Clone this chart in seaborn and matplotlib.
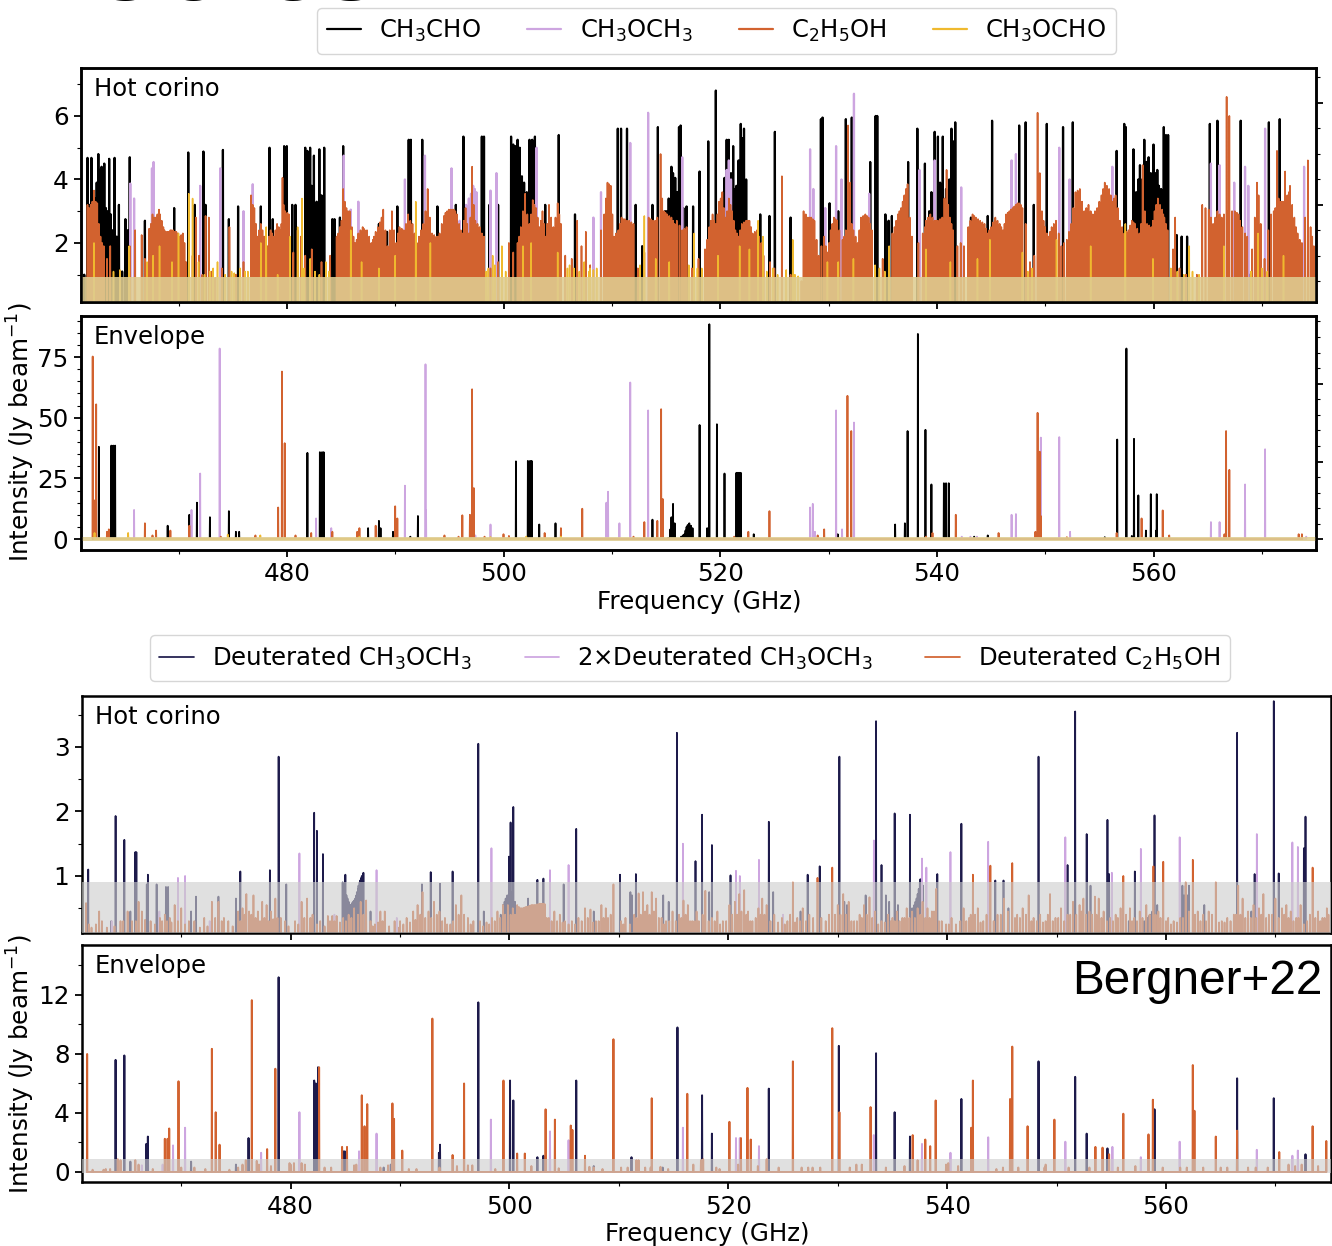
import matplotlib
matplotlib.use("Agg")
import pandas as pd
import seaborn as sns
import matplotlib.pyplot as plt
from matplotlib.ticker import MultipleLocator, NullFormatter

# (frequency GHz, intensity Jy/beam)
ch3cho_hot = [(461.3,1.0),(461.6,4.68),(461.8,3.2),(461.96,4.68),(462.15,3.6),(462.3,3.4),(462.45,3.9),(462.6,4.8),(462.75,4.3),(462.9,4.4),(463.05,3.6),(463.15,4.5),(463.3,3.1),(463.45,3.0),
    (463.6,4.65),(463.75,2.9),(463.9,2.4),(464.1,4.68),(464.3,2.2),(464.5,3.2),(464.8,1.1),(465.1,2.75),(465.3,2.4),(465.5,4.7),(466.9,2.7),(469.6,3.1),
    (470.9,4.85),(471.5,3.2),(472.3,4.88),(472.5,3.2),(474.1,4.93),(474.65,2.75),(475.5,3.15),(477.6,3.15),(478.4,5.0),(478.7,2.75),(479.75,5.05),
    (480.0,5.05),(480.5,3.2),(480.8,3.2),(481.7,5.0),(481.9,4.9),(482.15,5.0),(482.3,3.8),(482.5,4.75),(482.75,3.3),(483.0,4.95),(483.2,3.5),(483.45,5.0),(484.2,2.75),
    (484.4,2.75),(484.9,2.8),(485.2,5.05),(488.5,2.6),(489.25,2.35),(490.2,3.15),(491.25,5.25),(491.45,5.25),(492.5,5.25),(493.9,3.15),(495.6,3.2),
    (496.3,5.35),(498.0,5.35),(498.2,5.35),(498.7,3.2),(499.5,3.2),(500.7,5.35),(500.9,5.1),(501.1,5.05),(501.3,5.25),(501.5,5.0),(501.7,4.1),(501.9,3.9),
    (502.15,3.6),(502.4,5.25),(502.65,5.25),(502.9,5.35),(503.85,3.2),(505.1,5.4),(506.6,2.9),(510.55,5.6),(510.85,5.6),(511.4,5.6),(512.2,3.2),(512.8,1.9),
    (513.75,3.2),(514.25,5.65),(514.9,3.0),(515.05,3.0),(515.25,3.4),(515.5,4.4),(515.65,4.2),(515.85,4.05),(516.05,3.6),(516.2,5.65),(516.35,5.7),(516.6,3.1),(516.9,3.15),(517.5,3.15),
    (518.1,4.25),(518.9,5.2),(519.6,6.8),(520.4,4.05),(520.6,5.25),(520.8,5.25),(521.0,4.2),(521.2,5.05),(521.35,3.7),(521.5,3.8),(521.7,4.6),(521.9,5.75),(522.05,5.3),
    (522.2,5.6),(522.4,4.0),(523.7,2.9),(524.55,2.85),(525.05,5.5),(526.5,2.8),(529.3,5.9),(529.45,5.95),(530.1,3.25),(530.9,3.0),(531.6,5.9),(532.15,5.95),
    (533.85,4.55),(534.35,6.0),(534.5,6.0),(535.25,2.9),(535.55,2.7),(535.85,2.85),(537.35,4.55),(538.2,5.6),(538.4,3.8),(538.9,4.5),(539.3,3.0),(539.5,3.6),
    (539.8,5.5),(540.1,5.35),(540.3,3.9),(540.55,5.35),(540.85,3.7),(541.15,4.0),(541.35,5.6),(541.55,5.2),(541.7,5.8),(543.15,2.8),(544.7,2.85),(545.1,5.85),
    (547.6,5.7),(548.2,5.8),(548.95,3.2),(550.15,5.75),(551.65,5.65),(552.55,5.8),(556.6,4.9),(557.3,5.75),(557.45,5.65),(558.15,4.95),(558.4,3.6),(558.6,4.0),(558.75,4.45),
    (558.95,4.0),(559.15,5.25),(559.35,4.55),(559.55,4.7),(559.75,4.2),(560.0,5.1),(560.2,4.2),(560.35,4.3),(560.5,3.8),(560.7,3.7),(560.95,5.65),(561.15,5.4),(561.35,5.4),
    (562.15,2.25),(562.6,2.2),(563.1,2.2),(565.2,5.75),(565.9,5.85),(568.05,5.85),(568.9,1.0),(570.65,5.8),(571.65,5.9),(572.4,2.9)]
ch3och3_hot = [(465.55,3.87),(465.9,3.4),(467.55,4.35),(467.7,4.55),(472.0,3.8),(473.85,4.35),(476.0,3.0),(476.85,3.85),(485.25,4.75),(485.9,3.05),(486.6,3.3),
    (490.9,4.0),(492.75,4.75),(495.2,4.35),(495.95,2.7),(496.55,3.2),(496.8,3.4),(497.0,3.55),(497.2,3.8),(497.35,3.7),(497.5,3.6),(498.8,3.65),(499.35,4.2),(503.05,5.0),(508.3,2.8),
    (509.0,3.6),(509.8,3.5),(511.7,5.15),(513.35,6.1),(516.5,4.7),(520.6,4.3),(520.8,4.6),(521.0,4.0),(528.3,4.95),(528.6,3.7),(529.7,3.1),(530.7,5.05),(531.2,4.0),
    (532.35,6.7),(533.75,3.55),(538.4,4.3),(539.8,4.6),(542.25,3.75),(546.9,4.6),(547.3,4.8),(551.3,5.0),(552.25,4.0),(555.6,3.55),(556.2,4.4),(565.3,4.5),
    (566.1,4.45),(567.45,3.9),(568.45,4.4),(568.75,3.8),(570.3,5.6),(573.9,4.4)]
c2h5oh_hot = [(461.6,3.2),(461.9,3.2),(462.2,3.65),(462.5,3.25),(462.8,2.2),(463.1,1.9),(463.4,1.5),(463.7,1.9),(465.5,1.9),(466.0,2.4),(466.6,2.25),(466.9,1.5),
    (467.3,2.45),(467.6,2.9),(467.75,2.8),(467.9,2.8),(468.05,2.9),(468.2,3.05),(468.45,2.7),(468.7,2.4),(468.85,2.35),(469.0,2.35),(469.25,2.4),(469.5,2.4),(469.8,2.35),
    (470.1,2.2),(470.4,2.3),(470.7,1.4),(471.3,1.6),(471.6,2.8),(471.9,1.6),(472.2,1.0),(472.5,2.85),(472.8,2.8),(473.1,1.1),(473.4,0.9),(474.0,1.2),(474.7,2.5),
    (475.3,1.0),(476.0,1.4),(476.7,3.5),(477.0,3.1),(477.3,2.2),(477.6,2.6),(477.9,2.2),(478.2,1.9),(478.5,2.4),(478.8,2.2),(479.1,2.6),(479.4,2.4),(479.6,4.05),
    (479.85,3.0),(480.2,2.9),(480.6,1.7),(481.0,2.4),(481.3,2.2),(481.7,1.6),(482.3,1.8),(483.2,1.4),(484.0,1.6),(484.6,2.2),(484.9,2.5),(485.2,3.7),(485.35,3.3),(485.5,3.1),
    (485.65,3.0),(485.8,3.0),(486.0,2.5),(486.3,2.0),(486.6,2.3),(487.0,2.5),(487.2,2.4),(487.4,2.4),(487.6,2.2),(487.8,2.0),(488.2,2.35),(488.6,2.65),(488.9,3.05),(489.3,1.9),(489.7,3.0),
    (490.1,2.0),(490.4,2.5),(490.8,2.4),(491.2,2.9),(491.6,2.6),(492.0,2.0),(492.4,2.4),(493.0,3.7),(493.4,2.3),(493.8,2.2),(494.1,2.3),(494.3,2.6),(494.5,2.85),(494.65,2.95),
    (494.8,3.0),(494.95,3.05),(495.1,3.05),(495.25,3.05),(495.4,3.05),(495.55,3.0),(495.7,2.9),(495.9,2.6),(496.2,2.3),(496.5,3.1),(496.8,2.3),(497.1,4.4),(497.4,2.7),(497.8,2.5),
    (498.2,2.2),(498.8,1.2),(499.5,1.4),(500.5,2.0),(500.9,1.7),(501.3,2.0),(501.6,2.5),(502.0,3.55),(502.2,2.9),(502.4,2.6),(502.7,3.35),(503.0,3.1),(503.3,2.5),(503.6,3.0),(503.9,2.2),
    (504.2,3.2),(504.6,2.5),(505.0,3.25),(505.3,2.6),(505.7,1.6),(506.3,1.5),(506.8,2.7),(507.2,1.9),(507.6,2.35),(508.0,1.3),(509.0,2.4),(509.6,3.9),(509.9,3.8),(510.2,2.2),(510.6,2.4),
    (510.9,2.8),(511.2,2.75),(511.6,2.7),(512.0,2.6),(512.4,1.2),(513.0,1.7),(513.4,2.8),(514.0,2.7),(514.5,4.8),(514.8,3.0),(515.1,2.9),(515.5,2.8),(515.8,2.6),(516.0,2.7),(516.5,2.4),
    (516.9,2.5),(517.4,1.2),(518.0,1.5),(518.6,1.8),(519.0,2.5),(519.3,2.9),(519.6,2.6),(519.9,3.3),(520.2,3.6),(520.5,2.8),(520.8,3.4),(521.1,3.0),(521.4,2.4),(521.7,2.2),(522.0,2.6),
    (522.4,2.7),(522.7,2.7),(523.0,2.3),(523.4,2.4),(523.8,2.0),(524.0,1.6),(524.6,1.4),(525.0,1.2),(525.7,4.1),(526.5,1.0),(527.5,0.8),(527.7,3.0),(528.1,2.8),(528.4,2.8),(528.7,2.7),
    (529.1,1.6),(529.6,2.2),(529.9,1.7),(530.2,2.4),(530.5,2.8),(530.8,2.7),(531.3,2.1),(531.6,2.4),(531.8,5.7),(532.0,3.9),(532.3,2.4),(532.7,2.0),(533.0,2.8),(533.4,2.9),(533.7,2.8),
    (534.0,2.4),(535.0,1.5),(535.9,2.3),(536.1,2.5),(536.4,2.9),(536.7,3.1),(537.0,3.5),(537.3,3.85),(537.7,2.2),(538.3,2.0),(538.7,2.3),(539.0,2.7),(539.4,2.9),(539.8,2.7),(540.1,2.7),
    (540.5,2.8),(540.9,4.3),(541.2,2.8),(541.5,2.4),(541.9,1.9),(542.2,2.0),(542.5,1.9),(542.9,2.5),(543.3,2.9),(543.6,2.8),(544.0,2.7),(544.4,2.6),(544.7,2.3),(545.0,2.5),(545.4,2.8),
    (545.8,2.6),(546.1,2.4),(546.4,2.9),(546.55,2.95),(546.7,3.0),(546.85,3.05),(547.0,3.1),(547.15,3.15),(547.3,3.2),(547.45,3.25),(547.6,3.25),(547.75,3.2),(547.9,3.1),(548.2,2.6),
    (548.6,1.4),(549.0,1.6),(549.3,6.1),(549.5,4.2),(549.7,3.0),(550.0,2.5),(550.3,2.2),(550.6,2.5),(551.0,2.7),(551.5,1.9),(552.0,2.1),(552.4,2.6),(552.8,3.6),(553.2,3.7),(553.6,3.0),
    (554.0,3.2),(554.4,2.9),(554.8,3.1),(555.2,3.5),(555.5,3.9),(555.9,3.7),(556.2,3.3),(556.5,3.5),(556.9,2.7),(557.3,2.3),(557.7,2.4),(558.0,2.7),(558.3,2.6),(558.7,2.3),(559.0,4.45),
    (559.4,2.6),(559.8,2.5),(560.1,3.0),(560.4,3.4),(560.8,3.05),(561.0,2.8),(561.3,2.4),(561.8,1.8),(562.0,2.8),(562.4,1.2),(563.0,1.0),(564.0,1.0),(564.5,3.2),(565.1,3.05),(565.5,2.6),
    (565.9,3.0),(566.3,2.8),(566.75,6.6),(567.0,6.0),(567.5,3.0),(567.85,2.9),(568.2,2.5),(568.65,2.2),(569.1,1.8),(569.55,3.9),(569.7,3.5),(570.25,1.5),(570.85,2.9),(571.1,3.0),(571.4,4.9),
    (571.7,3.3),(571.95,3.3),(572.15,4.25),(572.35,3.5),(572.6,3.8),(573.0,2.8),(573.3,2.3),(573.7,2.0),(574.25,4.6),(574.5,2.5),(574.8,1.9)]
# the solid looking stretches of the C2H5OH spectrum
c2h5oh_hot_fill = [(461.75,3.1),(462.05,3.3),(462.35,3.3),(462.65,2.6),(462.95,2.0),(467.45,2.6),(468.3,2.9),(468.6,2.5),(469.1,2.35),(469.35,2.4),(469.65,2.35),(469.95,2.3),(470.25,2.25),(470.55,2.0),
    (476.85,3.2),(477.15,2.6),(477.45,2.4),(477.75,2.4),(478.05,2.0),(478.35,2.2),(478.65,2.3),(478.95,2.4),(479.25,2.5),(479.5,2.6),(479.7,3.2),(480.05,2.95),(484.75,2.3),(485.05,2.7),
    (486.15,2.2),(486.45,2.1),(486.8,2.4),(487.1,2.45),(487.95,2.1),(488.05,2.2),(488.4,2.5),(488.75,2.8),(489.1,2.4),(489.5,2.4),(489.9,2.4),(490.25,2.3),(490.6,2.45),(491.0,2.6),(491.4,2.7),
    (491.8,2.3),(492.2,2.2),(492.6,2.6),(492.8,3.0),(493.2,2.8),(493.6,2.25),(493.95,2.2),(496.05,2.4),(496.35,2.7),(496.65,2.6),(496.95,2.8),(497.25,3.2),(497.6,2.6),(498.0,2.3),
    (501.45,2.2),(501.8,3.0),(502.55,2.9),(502.85,3.2),(503.15,2.8),(503.45,2.7),(503.75,2.6),(504.05,2.6),(504.4,2.8),(504.8,2.8),(505.15,2.9),(509.3,2.9),(509.45,3.4),(509.75,3.85),(510.05,2.9),
    (510.4,2.3),(510.75,2.6),(511.05,2.75),(511.4,2.7),(511.8,2.65),(513.6,2.75),(513.8,2.7),(514.2,2.8),(514.65,3.4),(514.95,2.95),(515.3,2.85),(515.65,2.7),(516.25,2.55),(516.7,2.45),
    (518.8,2.1),(519.15,2.7),(519.45,2.7),(519.75,2.9),(520.05,3.4),(520.35,3.1),(520.65,3.0),(520.95,3.2),(521.25,2.7),(521.55,2.3),(521.85,2.4),(522.2,2.65),(522.55,2.7),(522.85,2.5),(523.2,2.35),(523.6,2.2),
    (527.9,2.9),(528.25,2.8),(528.55,2.75),(528.9,2.1),(529.35,1.9),(529.75,1.9),(530.05,2.0),(530.35,2.6),(530.65,2.75),(531.0,2.4),(531.45,2.2),(531.95,3.0),(532.15,2.6),(532.5,2.2),(532.85,2.4),(533.2,2.85),(533.55,2.85),(533.85,2.6),
    (536.25,2.7),(536.55,3.0),(536.85,3.3),(537.15,3.7),(537.5,2.8),(538.9,2.5),(539.2,2.8),(539.6,2.8),(539.95,2.7),(540.3,2.75),(540.7,3.4),(541.05,3.2),(541.35,2.6),
    (543.1,2.7),(543.45,2.85),(543.8,2.75),(544.2,2.65),(544.55,2.45),(544.85,2.4),(545.2,2.65),(545.6,2.7),(545.95,2.5),(546.25,2.6),(549.85,2.7),(550.15,2.3),(550.45,2.35),(550.8,2.6),(551.25,2.3),(551.75,2.0),
    (552.2,2.35),(552.6,3.1),(553.0,3.65),(553.4,3.3),(553.8,3.1),(554.2,3.0),(554.6,3.0),(555.0,3.3),(555.35,3.7),(555.7,3.8),(556.05,3.5),(556.35,3.4),(556.7,3.1),(557.1,2.5),(557.5,2.35),(557.85,2.55),
    (558.15,2.65),(558.5,2.45),(558.85,2.6),(559.2,3.0),(559.6,2.55),(559.95,2.7),(560.25,3.2),(560.6,3.2),(560.9,2.9),(561.15,2.6),(564.8,3.1),(565.3,2.8),(565.7,2.8),(566.1,2.9),(566.5,2.9),(566.9,3.0),(567.25,3.0),
    (567.7,2.95),(568.0,2.7),(568.45,2.3),(569.35,2.8),(569.9,2.6),(570.6,2.4),(571.25,3.1),(571.55,3.4),(571.85,3.3),(572.5,3.6),(572.8,3.2),(573.15,2.5),(573.5,2.1),(574.0,2.8),(574.65,2.2)]
ch3ocho_hot = [(462.2,2.0),(465.45,1.9),(467.1,1.4),(467.65,1.6),(468.25,1.9),(469.4,1.4),(470.0,2.3),(470.95,3.55),(471.3,3.4),(471.85,1.4),(473.6,1.4),(476.15,1.1),
    (477.6,2.0),(478.1,2.5),(479.15,1.0),(480.3,2.2),(481.0,2.5),(481.4,3.4),(482.15,1.5),(483.6,1.4),(485.9,2.4),(486.9,1.4),(488.5,1.2),(490.0,1.6),(491.9,3.3),(493.25,2.0),
    (499.0,1.6),(499.85,1.9),(501.8,1.9),(502.55,2.0),(505.0,1.7),(507.45,1.4),(508.0,1.2),(513.0,2.85),(514.05,1.5),(515.3,1.4),(517.6,2.3),(519.8,1.6),(521.8,1.9),(522.7,1.8),
    (523.5,2.7),(523.95,2.2),(526.7,2.1),(529.9,1.4),(530.9,1.4),(532.3,1.5),(535.6,1.9),(539.0,1.8),(541.25,1.4),(543.75,1.5),(544.9,2.1),(547.9,1.7),(551.05,2.1),(554.2,1.9),
    (557.4,2.6),(559.95,1.5),(563.3,1.9),(566.5,1.9),(569.65,2.3),(572.0,1.6),
    (464.0,1.1),(464.6,1.15),(472.4,1.0),(472.9,1.1),(473.2,1.2),(474.3,1.0),(474.9,1.1),(475.15,1.05),(475.7,1.2),(476.4,1.1),(481.6,1.2),(482.6,1.1),(483.0,1.0),(483.9,1.1),(498.4,1.1),(498.6,1.2),(499.2,1.3),(500.2,1.1),
    (505.9,1.2),(506.1,1.3),(506.5,1.2),(507.0,1.1),(507.9,1.1),(508.3,1.15),(508.6,1.2),(512.6,1.3),(517.1,1.3),(517.9,1.2),(518.3,1.2),(524.3,1.1),(524.85,1.2),(525.3,1.0),(526.1,1.15),(526.9,1.0),(527.2,0.95),
    (534.3,1.3),(534.7,1.2),(535.2,1.1),(548.4,1.1),(548.8,1.2),(561.6,1.2),(562.2,1.1),(562.8,1.0),(563.6,1.1),(564.2,1.0),(569.0,1.1),(570.0,1.2),(570.5,1.1)]

ch3cho_env = [(462.65,38),(463.8,38.5),(463.98,38.5),(464.15,38.5),(469,5.5),(471,10),(471.7,15),(472.9,9),(474.65,11.5),(475.3,3),(475.6,3),(481.9,35.5),(483.05,35.8),(483.25,35.8),
    (483.4,35.8),(487.5,4.5),(488.5,7.5),(488.65,4.5),(489.8,3),(491.4,1),(492.1,9.5),(501.15,32),(502.25,32.2),(502.45,32.2),(502.6,32.2),(503.3,6),(504.8,6.5),(513.75,8),
    (515.2,0.5),(515.4,4),(515.5,9),(515.65,14.5),(515.8,6.5),(516.4,1),(516.55,1.5),(516.7,2),(516.8,3.5),(516.9,5),(517.0,5.8),(517.15,6.5),(517.3,5.5),(517.45,4.5),(518.1,47),(518.8,4.5),(519,88.5),(519.7,47.3),(520.4,27),
    (521.5,27.3),(521.6,27.3),(521.7,27.3),(521.8,27.3),(521.9,27.3),(523.1,2),(530.85,2),(536.15,6),(537.05,6.5),(537.3,44.5),(538.25,84.5),(538.95,45),(539.5,22.5),(540.65,23),
    (540.85,23),(541.1,23),(543.45,1),(544.7,1.5),(555.5,0.8),(556.65,41),(557.5,78.5),(558.2,41.3),(558.6,18),(558,1.3),(559.3,3.5),(559.75,18.5),(560.3,18.5),(560.25,3.5)]
ch3och3_env = [(465.9,12),(471.2,12),(472,27),(473.8,78.5),(482.7,8.5),(484.1,4.5),(490.9,22),(492.8,72),(492.85,12),(498.8,6),(497.4,1.5),(509.5,15),(509.65,19.5),(510.7,6.5),
    (511.7,64.5),(513.35,53),(528.3,13),(528.55,14.5),(528.75,3),(530.7,53),(531.25,4),(532.35,48),(542.3,1),(543.1,1),(543.7,1),(546.9,10),(547.3,10.3),(549.6,41.8),(551.3,42),
    (552.3,3),(565.3,7),(566.1,7),(568.45,22.5),(570.3,37),(574.1,1)]
c2h5oh_env = [(462.08,75.2),(462.2,16),(462.4,55.5),(463.4,3),(463.57,4),(466.9,6.5),(467.6,1.5),(467.93,3.5),(469.25,3.5),(471.0,5.5),(473.9,1),(477.1,1.5),(479.2,13),(479.55,69),
    (479.8,39.5),(480.8,1.5),(482.25,2.5),(484.2,3),(486.5,3),(486.7,4.5),(488.2,5.5),(490,13.5),(490.2,8.5),(494.55,1.5),(495.85,1),(496.2,9.8),(496.9,10),(497.1,61.7),
    (497.26,21),(498.25,1),(500,2),(500.5,1.3),(503.8,2.5),(505.3,4.5),(507.27,12.5),(512,1),(513,7),(514.2,7.5),(514.55,53.5),(514.7,16.5),(521.3,1),(522.6,3),(524.55,11.5),
    (529,1.5),(529.6,4),(531.75,59),(532.1,44.5),(539,1),(539.6,2.5),(541.75,10),(545.7,2.5),(549.1,3),(549.3,52),(549.5,36),(549.6,9.5),(552,0.8),(556.6,2.5),(558.9,8.5),
    (560.85,11.8),(561.45,1.5),(566.55,2),(566.7,44.5),(567,28.5),(573.4,2),(573.7,2)]
ch3ocho_env = [(462.25,2.5),(465.35,2.5),(474.55,1.8),(477.55,1.5),(486.7,1),(498.8,0.8),(502.1,1),(505.3,1)]

d_ch3och3_hot = [(461.5,1.1),(463.6,0.3),(464,1.93),(464.8,1.56),(465.35,0.45),(465.8,1.37),(465.9,1.37),(466.85,0.87),(466.95,1.02),(467.75,0.87),(468.6,0.83),(468.8,0.83),(470.9,0.45),(471.35,0.68),(473.4,0.68),
    (475,0.65),(475.4,1.07),(478.1,1.09),(478.9,2.85),(479.6,0.87),(482.15,1.98),(482.4,1.7),(482.95,1.34),(484.75,0.9),(485,1.02),(485.1,0.7),(485.2,0.65),(485.3,0.6),(485.4,0.55),(485.5,0.55),(485.6,0.58),(485.7,0.6),(485.8,0.62),
    (485.9,0.65),(486.0,0.7),(486.05,0.75),(486.15,0.8),(486.2,0.85),(486.3,0.9),(486.35,0.93),(486.45,0.97),(486.5,1.0),(486.6,1.03),(486.65,1.05),(487.3,0.45),(492,0.87),(492.8,1.06),(493.65,0.88),(494.8,1.07),(497.15,3.05),(497.65,0.45),
    (499.2,0.4),(499.4,0.55),(499.55,0.6),(499.65,0.65),(499.8,0.7),(499.95,1.3),(500.1,1.83),(500.2,0.75),(500.35,2.07),(500.5,0.6),(500.65,0.5),(501.7,0.65),(502.55,0.94),(503.1,0.96),(504.95,0.87),(506.1,1.73),(507.7,0.45),(510.1,1.02),(511.05,0.75),(511.2,0.7),
    (511.55,1.03),(514.05,0.7),(514.55,0.6),(515.3,3.22),(517,1.23),(517.6,1.95),(518.25,0.75),(518.5,1.48),(520.2,1.01),(523.7,1.84),(524.1,0.75),(526.6,0.45),(527.25,1.02),
    (528.35,1.15),(530.15,2.85),(530.6,0.6),(530.85,0.55),(532.55,0.7),(533.5,3.4),(534,1.17),(534.4,0.7),(534.7,0.6),(535.2,1.97),(535.5,0.55),(536.6,1.95),(536.8,0.5),(537.0,0.55),(537.1,0.6),
    (537.2,0.65),(537.3,0.72),(537.4,0.8),(537.5,0.9),(537.55,0.95),(537.65,0.9),(537.8,0.85),(539.1,1.03),(541.3,1.81),(544.4,0.93),(545.15,0.93),(545.6,0.5),(548.35,2.85),(551,1.17),(551.7,3.55),(552.75,1.65),
    (553.1,0.85),(554.65,1.87),(554.8,1.03),(556.6,0.3),(557.15,1.07),(558,0.3),(558.3,0.35),(558.45,0.38),(558.6,0.4),(558.75,0.45),(558.95,1.94),(559.2,0.55),(561.5,0.85),(561.65,0.7),(561.8,0.85),(561.95,0.7),(562.1,0.85),(563.5,0.55),
    (566.5,3.22),(567.8,0.45),(568.1,1.03),(569.85,3.71),(570.3,1.04),(572.6,1.43),(572.75,1.92)]
d2_ch3och3_hot = [(463.65,0.3),(468.0,0.45),(469.7,0.97),(470.35,1.0),(472.6,0.3),(480.8,1.35),(484.0,0.4),(487.85,1.09),(489.7,0.35),(498.35,1.43),(503.7,1.09),(505.4,1.17),
    (515.85,1.5),(520.7,1.08),(521.05,1.0),(522.8,1.25),(525.0,0.4),(533.3,1.55),(537.7,1.27),(538.1,1.13),(540.3,1.37),(543.75,1.53),(550.8,1.6),(555.05,1.05),(557.7,1.42),
    (561.25,1.6),(568.3,1.65),(571.55,1.52),(572.05,1.45)]
d_c2h5oh_hot = [(461.3,0.58),(461.55,0.25),(462.5,0.45),(462.75,0.3),(464.45,0.3),(465.1,0.45),(465.5,0.3),(466.1,0.6),(466.4,0.45),(467.2,0.3),(468.05,0.35),(468.5,0.4),(468.95,0.35),(469.4,0.55),
    (470.0,0.5),(470.7,0.3),(471.2,0.3),(472.1,0.35),(472.8,0.6),(473.4,0.6),(473.9,0.35),(474.3,0.3),(475.2,0.45),(475.6,0.5),(475.95,0.72),(476.2,0.45),(476.6,0.7),(477.0,0.45),
    (477.4,0.6),(477.8,0.55),(478.2,0.45),(478.6,0.65),(479.1,0.35),(479.5,0.3),(480.4,0.3),(481.0,0.6),(481.5,0.65),(482.0,0.4),(482.7,0.3),(483.4,0.38),(483.8,0.38),(484.2,0.38),
    (484.8,0.35),(485.3,0.4),(485.8,0.5),(486.4,0.6),(486.9,0.62),(487.3,0.3),(487.7,0.25),(488.2,0.45),(488.6,0.45),(489.5,0.3),(490.0,0.3),(490.6,0.35),(491.2,0.45),(491.6,0.55),
    (492.05,0.75),(492.6,0.45),(493.1,0.6),(493.6,0.45),(494.1,0.35),(494.6,0.25),(495.1,0.55),(495.6,0.7),(496.2,0.35),(496.7,0.3),(497.3,0.3),(497.9,0.28),(498.4,0.35),(498.9,0.45),
    (499.4,0.55),(499.85,0.55),(500.3,0.5),(500.7,0.55),(500.85,0.52),(501.0,0.5),(501.12,0.5),(501.25,0.5),(501.37,0.51),(501.5,0.52),(501.62,0.52),(501.75,0.53),(501.87,0.54),(502.0,0.55),(502.12,0.55),(502.25,0.55),(502.37,0.55),(502.5,0.56),(502.62,0.56),(502.75,0.57),(502.87,0.57),(503.0,0.57),(503.12,0.57),(503.25,0.56),
    (503.6,0.35),(504.1,0.45),(504.6,0.4),(505.05,0.3),(505.7,0.3),(506.3,0.35),(506.9,0.5),(507.4,0.48),(507.9,0.3),(508.4,0.55),(508.8,0.5),(509.5,0.87),(510.2,0.3),(510.6,0.35),
    (511.4,0.4),(511.8,0.73),(512.2,0.75),(512.6,0.55),(513.0,0.75),(513.4,0.65),(513.9,0.35),(514.3,0.3),(514.9,0.45),(515.5,0.4),(515.9,0.62),(516.3,0.55),(516.7,0.3),(517.1,0.45),
    (517.9,0.77),(518.5,0.35),(519.0,0.45),(519.5,0.3),(520.1,0.55),(520.6,0.6),(521.0,0.72),(521.45,0.78),(521.8,0.45),(522.2,0.3),(522.75,0.5),(523.1,0.65),(523.5,0.55),(524.2,0.4),
    (524.9,0.35),(525.4,0.3),(525.9,0.9),(526.3,0.35),(526.8,0.5),(527.4,0.4),(528.15,0.97),(528.9,0.3),(529.5,1.13),(530.0,0.55),(530.5,0.72),(531.0,0.6),(531.5,0.3),(532.0,0.4),
    (532.4,0.55),(532.9,0.67),(533.4,0.45),(534.0,0.3),(534.6,0.4),(535.0,0.35),(535.4,0.45),(535.9,0.35),(536.3,0.5),(536.8,0.45),(537.3,0.5),(537.75,0.6),(538.2,0.5),(538.6,0.45),
    (539.0,0.8),(539.5,0.3),(539.9,0.25),(540.4,0.35),(540.8,0.25),(541.5,0.5),(542.0,0.35),(542.35,1.02),(542.8,0.5),(543.3,0.3),(543.95,1.16),(544.6,0.4),(545.2,0.65),(545.95,1.2),
    (546.4,0.4),(546.9,0.5),(547.45,0.7),(547.9,0.35),(548.5,0.4),(549.0,0.3),(549.4,0.72),(549.9,0.35),(550.4,0.5),(551.0,0.4),(551.5,0.6),(552.1,0.55),(552.45,0.65),(553.0,0.45),
    (553.5,0.68),(553.85,0.65),(554.3,0.45),(554.9,0.35),(555.4,0.4),(555.85,0.5),(556.1,1.0),(556.7,0.5),(557.1,0.35),(557.6,0.45),(558.2,0.55),(558.85,1.15),(559.3,0.45),(559.75,1.22),
    (560.2,0.35),(560.7,0.3),(561.3,0.35),(561.8,0.9),(562.45,1.25),(562.9,0.45),(563.4,0.4),(563.9,0.45),(564.55,0.9),(565.1,0.3),(565.6,0.35),(566.2,0.4),(566.6,0.85),(567.0,0.65),
    (567.5,0.45),(568.0,0.55),(568.5,0.5),(568.9,0.72),(569.4,0.4),(570.0,0.65),(570.6,0.5),(571.0,0.55),(571.4,0.45),(571.9,0.35),(572.3,0.55),(572.9,0.3),(573.4,1.13),(573.9,0.45),
    (574.3,0.35),(574.7,0.5)]
# the low lines that crowd along the bottom of the deuterated hot corino panel
d_c2h5oh_hot_low = [(461.8,0.2),(462.2,0.25),(463.2,0.2),(463.9,0.22),(464.7,0.3),(465.85,0.3),(466.7,0.32),(467.6,0.25),(468.25,0.3),(468.7,0.3),(469.1,0.28),(469.7,0.3),(470.35,0.25),(471.7,0.2),(472.4,0.22),(473.1,0.35),
    (473.7,0.3),(474.7,0.22),(475.4,0.3),(475.8,0.4),(476.4,0.4),(476.8,0.35),(477.2,0.3),(477.6,0.35),(478.0,0.3),(478.4,0.33),(478.8,0.35),(479.8,0.22),(480.7,0.25),(481.25,0.35),(481.8,0.35),(482.4,0.25),(483.1,0.22),(483.6,0.3),(484.0,0.3),(484.5,0.28),
    (485.05,0.3),(485.55,0.35),(486.15,0.4),(486.65,0.4),(487.5,0.22),(488.0,0.28),(488.4,0.3),(489.0,0.22),(489.9,0.2),(490.3,0.25),(490.9,0.28),(491.4,0.32),(491.85,0.4),(492.3,0.35),(492.85,0.35),(493.35,0.4),(493.85,0.3),(494.3,0.25),(494.85,0.3),(495.35,0.4),(495.85,0.4),(496.45,0.25),
    (497.6,0.22),(498.15,0.25),(498.65,0.3),(499.15,0.35),(499.6,0.4),(500.1,0.4),(500.5,0.4),(503.4,0.35),(503.85,0.3),(504.35,0.3),(504.85,0.28),(505.4,0.25),(506.0,0.25),(506.6,0.3),(507.15,0.35),(507.65,0.28),(508.15,0.3),(508.6,0.35),(509.0,0.35),(509.25,0.4),
    (510.4,0.25),(511.0,0.25),(511.6,0.35),(512.0,0.4),(512.4,0.45),(512.8,0.4),(513.2,0.45),(513.65,0.35),(514.1,0.25),(514.6,0.3),(515.2,0.3),(515.7,0.35),(516.1,0.4),(516.5,0.3),(516.9,0.3),(517.3,0.3),(517.65,0.4),(518.2,0.3),(518.75,0.3),(519.25,0.25),
    (519.8,0.3),(520.35,0.4),(520.8,0.4),(521.2,0.45),(521.65,0.4),(522.0,0.3),(522.5,0.35),(522.95,0.4),(523.3,0.4),(523.85,0.3),(524.55,0.28),(525.15,0.25),(525.65,0.4),(526.1,0.28),(526.55,0.3),(527.1,0.3),(527.75,0.35),(528.5,0.35),(529.2,0.4),(529.75,0.4),
    (530.25,0.4),(530.75,0.4),(531.25,0.3),(531.75,0.3),(532.2,0.35),(532.65,0.4),(533.15,0.35),(533.7,0.25),(534.3,0.28),(534.85,0.3),(535.2,0.3),(535.65,0.3),(536.1,0.35),(536.55,0.35),(537.05,0.35),(537.55,0.4),(538.0,0.35),(538.4,0.35),(538.8,0.45),(539.25,0.3),
    (540.15,0.25),(541.2,0.3),(541.75,0.3),(542.15,0.4),(542.55,0.4),(543.05,0.28),(543.6,0.4),(544.25,0.3),(544.9,0.4),(545.55,0.45),(546.2,0.35),(546.65,0.35),(547.2,0.4),(547.7,0.3),(548.2,0.3),(548.75,0.28),(549.2,0.4),(549.65,0.3),(550.15,0.35),(550.7,0.3),
    (551.25,0.4),(551.8,0.4),(552.3,0.45),(552.7,0.4),(553.25,0.4),(553.65,0.4),(554.1,0.35),(554.6,0.3),(555.15,0.3),(555.6,0.35),(556.35,0.4),(556.9,0.3),(557.35,0.3),(557.85,0.35),(558.5,0.4),(559.05,0.4),(559.5,0.35),(560.0,0.3),(560.45,0.25),(561.0,0.28),
    (561.55,0.35),(562.1,0.45),(562.65,0.4),(563.15,0.3),(563.65,0.3),(564.2,0.4),(564.85,0.28),(565.35,0.28),(565.9,0.3),(566.4,0.4),(566.8,0.4),(567.25,0.35),(567.75,0.35),(568.25,0.35),(568.7,0.4),(569.15,0.35),(569.7,0.4),(570.3,0.35),(570.8,0.4),(571.2,0.35),
    (571.65,0.3),(572.1,0.35),(572.6,0.25),(573.15,0.4),(573.65,0.35),(574.1,0.3),(574.5,0.35),(574.85,0.4)]

d_ch3och3_env = [(464,7.6),(464.8,7.9),(465.35,0.7),(466.8,1.9),(466.95,2.4),(470.9,0.7),(475,0.5),(476.15,2.3),(478.9,13.2),(482.15,6.2),(482.3,6),(482.5,7.1),(484.8,1.4),(484.95,1.4),
    (488.5,0.3),(489.15,0.5),(493.55,1.3),(493.65,1.85),(497.15,11.5),(500.05,6.2),(500.35,4.85),(502.55,1),(503.1,1.1),(506.1,6.2),(507.7,0.4),(511.15,1),(514,0.3),(515.35,9.8),
    (517.6,5.2),(518.5,2.6),(523.7,5.65),(530.1,8.55),(533.5,8.05),(535.2,4.05),(536.6,2.4),(541.3,4.95),(548.35,7.5),(551.7,6.45),(552.75,2.6),(554.65,1.6),(558.95,4.25),
    (566.5,6.35),(569.85,5),(572.75,1.2)]
d2_ch3och3_env = [(466.4,0.45),(468.3,0.5),(469.25,1.8),(470.35,3),(477.3,1.3),(480.8,4.05),(486.25,1.4),(487.85,2.6),(498.3,3.55),(503.7,2.75),(505.4,2.15),(515.85,3),(520.7,2.3),
    (521.05,2.3),(522.8,1.75),(533.3,2.5),(537.7,1.9),(540.3,1.3),(543.75,2.35),(550.8,2.05),(555.1,1.7),(557.7,1),(561.25,2.05),(568.3,1.5),(571.55,1.1),(572.05,1.45)]
d_c2h5oh_env = [(461.4,8),(462.9,0.15),(463.5,0.2),(464.2,0.85),(464.45,0.8),(465.8,0.8),(466.1,0.5),(468.5,2.25),(468.75,2.25),(468.9,2.95),(469.75,6.15),(471.2,0.3),(472.8,8.35),(473.15,4.05),
    (473.5,1.85),(475.6,0.5),(475.9,0.8),(476.45,11.65),(476.9,0.75),(477.85,1.55),(478.6,7),(479.9,0.6),(480.3,0.6),(481.3,0.5),(482.6,7.1),(483.7,0.3),(484.7,1.7),(485.15,1.7),(486.0,0.5),
    (486.5,5.2),(486.75,3.1),(487,4.6),(488.9,0.45),(489.3,4.65),(489.45,3.6),(490.2,1.45),(491.5,0.2),(492.95,10.4),(494.8,1.15),(495.85,6),(496.2,0.45),(496.6,0.45),(499.45,6.2),
    (500.7,1.25),(501.4,1.25),(503.3,4.25),(504.15,3.55),(505.6,3.15),(505.75,2.85),(506.9,1.1),(507.3,0.35),(509.5,9),(510.8,0.3),(511.6,0.8),(511.8,0.8),(512.4,0.3),(513,5),(513.8,0.35),
    (516.25,5.3),(517.5,0.8),(517.7,0.85),(519.2,0.2),(520.1,3.4),(521.15,2.3),(521.75,5.7),(522.05,2.2),(523.5,0.85),(525.9,7.5),(527.3,0.3),(527.7,0.3),(529.5,9.75),(530.15,4.05),
    (531.7,0.5),(533,4.4),(536.85,2.5),(537.3,0.8),(538,2.2),(538.45,1.75),(538.95,4.85),(540.1,0.6),(542.2,3),(542.35,6.2),(545.1,0.3),(545.75,4.95),(545.95,8.5),(547.35,3.1),
    (549,0.5),(549.8,3.55),(553.55,1.7),(554.2,1.65),(554.8,1.2),(556.1,3.95),(558.4,2.55),(558.8,4.9),(561.9,0.3),(562.45,7.25),(562.6,4.15),(564.55,2.4),(565.6,0.3),(566.5,2.8),
    (567.5,0.3),(570.35,1.35),(571.2,0.5),(572.4,0.5),(573.4,3.1),(574.65,2.1),
    (461.9,0.15),(463.1,0.2),(467.4,0.2),(470.0,0.3),(472.2,0.2),(474.4,0.15),(475.2,0.3),(477.1,0.5),(478.2,0.4),(480.0,0.5),(481.0,0.6),(483.1,0.3),(485.8,0.45),(488.2,0.3),(490.8,0.2),(493.6,0.3),(495.2,0.4),(498.7,0.2),
    (502.0,0.4),(504.5,0.25),(507.7,0.3),(508.5,0.2),(510.2,0.3),(512.9,0.3),(514.5,0.2),(516.8,0.5),(518.9,0.3),(520.9,0.5),(522.7,0.4),(524.6,0.3),(526.7,0.3),(528.4,0.3),(531.1,0.3),(532.2,0.5),(534.4,0.3),(536.1,0.4),
    (539.9,0.5),(541.0,0.4),(544.5,0.2),(546.5,0.3),(548.9,0.3),(551.1,0.3),(553.0,0.3),(555.6,0.3),(557.2,0.4),(559.7,0.3),(561.3,0.3),(563.4,0.3),(565.0,0.3),(568.2,0.3),(569.3,0.3),(571.8,0.4),(573.9,0.4)]

labels_top = ["CH$_3$CHO", "CH$_3$OCH$_3$", "C$_2$H$_5$OH", "CH$_3$OCHO"]
labels_bottom = ["Deuterated CH$_3$OCH$_3$", "2$\\times$Deuterated CH$_3$OCH$_3$", "Deuterated C$_2$H$_5$OH"]
colors_top = ["#000000", "#cda5e0", "#d2622f", "#efb92e"]
colors_bottom = ["#1d1a4b", "#cda5e0", "#d2622f"]

W, H = 1332, 1246
FS = 17.7

sns.set_theme(style="ticks")
plt.rcParams["font.family"] = "DejaVu Sans"
plt.rcParams["mathtext.default"] = "regular"
plt.rcParams["axes.linewidth"] = 1.8
for key in ["text.color", "axes.labelcolor", "axes.edgecolor", "xtick.color", "ytick.color"]:
    plt.rcParams[key] = "black"

fig = plt.figure(figsize=(W / 100, H / 100), dpi=100)


def panel(left, top, right, bottom):
    return fig.add_axes([left / W, 1 - bottom / H, (right - left) / W, (bottom - top) / H])


def sticks(series, labels):
    # every line goes from the baseline up to the peak and back down
    rows = []
    for peaks, name in zip(series, labels):
        for f, i in sorted(peaks):
            rows += [(f - 0.02, 0, name), (f, i, name), (f + 0.02, 0, name)]
    return pd.DataFrame(rows, columns=["freq", "intensity", "species"])


def draw(ax, series, labels, colors, lw, band, band_color, band_alpha, name, legend=False):
    sns.lineplot(data=sticks(series, labels), x="freq", y="intensity", hue="species", palette=dict(zip(labels, colors)),
                 estimator=None, sort=False, lw=lw, ax=ax, legend=legend)
    ax.axhspan(band[0], band[1], color=band_color, alpha=band_alpha, lw=0, zorder=5)
    ax.text(0.0105, 0.963, name, transform=ax.transAxes, fontsize=FS - 0.2, ha="left", va="top", zorder=6)
    ax.set_xlabel("")
    ax.set_ylabel("")


def style(ax, xlim, ylim, ymajor, yminor, xlabels):
    ax.set_xlim(*xlim)
    ax.set_ylim(*ylim)
    ax.xaxis.set_major_locator(MultipleLocator(20))
    ax.xaxis.set_minor_locator(MultipleLocator(10))
    ax.yaxis.set_major_locator(MultipleLocator(ymajor))
    ax.yaxis.set_minor_locator(MultipleLocator(yminor))
    ax.tick_params(axis="both", which="major", length=5, width=1.3, labelsize=FS, pad=4)
    ax.tick_params(axis="both", which="minor", length=3, width=0.8)
    if not xlabels:
        ax.xaxis.set_major_formatter(NullFormatter())


def right_ticks(ax, ylim, minor):
    # second y scale, only the tick marks are shown
    tw = ax.twinx()
    tw.set_ylim(*ylim)
    tw.yaxis.set_major_locator(MultipleLocator(1))
    tw.yaxis.set_minor_locator(MultipleLocator(minor))
    tw.yaxis.set_major_formatter(NullFormatter())
    tw.tick_params(axis="y", which="major", length=5, width=1.3)
    tw.tick_params(axis="y", which="minor", length=3, width=0.8)


ax1 = panel(81, 68, 1316, 302)
ax2 = panel(81, 316, 1316, 550)
ax3 = panel(82, 696, 1331, 933)
ax4 = panel(82, 945, 1331, 1182)

TAN = "#dfcd92"
GREY = "#cdcdcd"
xlim_top = (461.0, 575.0)
xlim_bottom = (460.93, 575.08)

draw(ax1, [ch3cho_hot, ch3och3_hot, c2h5oh_hot + c2h5oh_hot_fill, ch3ocho_hot], labels_top, colors_top, 1.6, (0, 0.93), TAN, 0.88, "Hot corino", legend="full")
# thinner lines so the crowded C2H5OH and CH3OCHO spectra keep their gaps
ax1.get_lines()[2].set_linewidth(1.2)
ax1.get_lines()[3].set_linewidth(1.1)
style(ax1, xlim_top, (0.14, 7.51), 2, 1, False)
right_ticks(ax1, (0.049, 2.343), 0.25)

draw(ax2, [ch3cho_env, ch3och3_env, c2h5oh_env, ch3ocho_env], labels_top, colors_top, 1.3, (-0.7, 0.9), TAN, 0.88, "Envelope")
style(ax2, xlim_top, (-4.5, 91.9), 25, 5, True)
right_ticks(ax2, (-0.137, 2.87), 0.2)
ax2.set_xlabel("Frequency (GHz)", fontsize=FS, labelpad=2.5, x=0.501)

draw(ax3, [d_ch3och3_hot, d2_ch3och3_hot, d_c2h5oh_hot + d_c2h5oh_hot_low], labels_bottom, colors_bottom, 1.25, (0, 0.9), GREY, 0.62, "Hot corino", legend="full")
style(ax3, xlim_bottom, (0.116, 3.79), 1, 0.5, False)

draw(ax4, [d_ch3och3_env, d2_ch3och3_env, d_c2h5oh_env], labels_bottom, colors_bottom, 1.4, (-0.1, 0.9), GREY, 0.62, "Envelope")
style(ax4, xlim_bottom, (-0.68, 15.39), 4, 2, True)
ax4.set_xlabel("Frequency (GHz)", fontsize=FS, labelpad=2.5, x=0.501)

sns.move_legend(ax1, "center", bbox_to_anchor=((716.5 - 81) / 1235, 1 + 37 / 234), ncol=4, title=None, frameon=True,
                fontsize=FS - 0.2, columnspacing=1.9, handlelength=1.4, borderpad=0.4, handletextpad=0.75)
sns.move_legend(ax3, "center", bbox_to_anchor=((690 - 82) / 1249, 1 + 38 / 237), ncol=3, title=None, frameon=True,
                fontsize=FS - 0.1, columnspacing=2.15, handlelength=1.4, borderpad=0.4, handletextpad=0.75)

fig.text(5 / W, 1 - 432 / H, "Intensity (Jy beam$^{-1}$)", rotation=90, fontsize=FS, ha="left", va="center")
fig.text(5 / W, 1 - 1064 / H, "Intensity (Jy beam$^{-1}$)", rotation=90, fontsize=FS, ha="left", va="center")
fig.text(1322 / W, 1 - 981 / H, "Bergner+22", fontsize=34.3, family="Liberation Sans", ha="right", va="center", zorder=7)
# slide title cut off by the top edge of the picture
fig.text(-41 / W, 1 - 0 / H, "n. Cores", fontsize=80, family="Liberation Sans", ha="left", va="baseline")

fig.savefig("out.png", dpi=100)
